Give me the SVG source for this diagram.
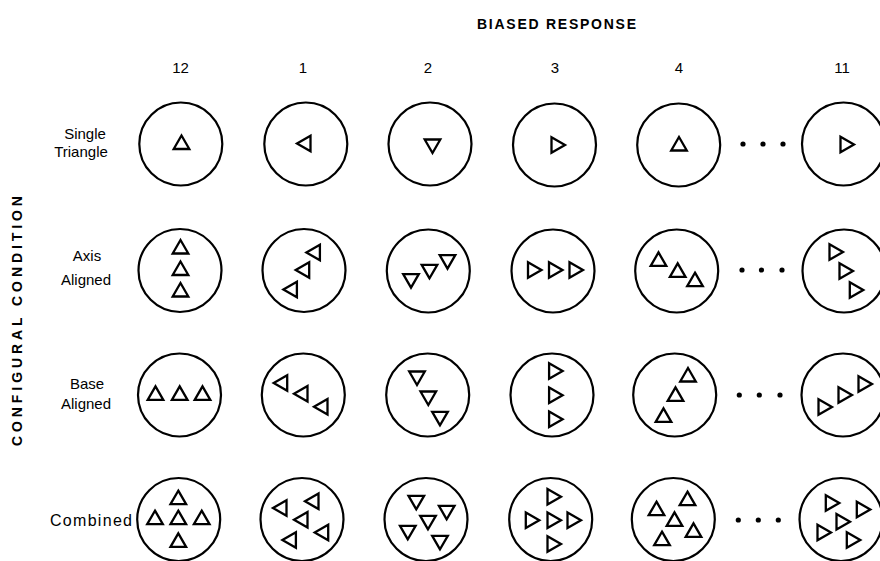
<svg xmlns="http://www.w3.org/2000/svg" xmlns:xlink="http://www.w3.org/1999/xlink" width="880" height="561" viewBox="0 0 880 561">
<style>
.c{fill:none;stroke:#000;stroke-width:2.2}
.t{fill:none;stroke:#000;stroke-width:2.3;stroke-linejoin:miter}
.d{fill:#000;stroke:none}
.lbl{font-family:"Liberation Sans",Arial,sans-serif;font-size:15px;fill:#000}
.hd{font-family:"Liberation Sans",Arial,sans-serif;font-size:14px;font-weight:bold;fill:#000}
.num{font-family:"Liberation Sans",Arial,sans-serif;font-size:15px;fill:#000;text-anchor:middle}
</style>
<defs>
<path id="U" class="t" d="M0,-9 L7.8,4.5 L-7.8,4.5 Z"/>
</defs>
<rect width="880" height="561" fill="#fff"/>
<g id="headings">
<text class="hd" x="477" y="29" textLength="159" lengthAdjust="spacing">BIASED RESPONSE</text>
<text class="num" x="180.5" y="73">12</text>
<text class="num" x="303" y="73">1</text>
<text class="num" x="428" y="73">2</text>
<text class="num" x="555" y="73">3</text>
<text class="num" x="679" y="73">4</text>
<text class="num" x="842" y="73">11</text>
<text class="hd" transform="translate(22,446) rotate(-90)" x="0" y="0" textLength="250" lengthAdjust="spacing">CONFIGURAL CONDITION</text>
</g>
<g id="row-labels" class="lbl" text-anchor="middle">
<text x="85" y="139">Single</text>
<text x="81" y="157">Triangle</text>
<text x="87" y="261">Axis</text>
<text x="86" y="285">Aligned</text>
<text x="87" y="389">Base</text>
<text x="86" y="409">Aligned</text>
<text x="91" y="526" font-size="16" textLength="82" lengthAdjust="spacing">Combined</text>
</g>
<g id="connectors"></g>

<!-- Row 1 -->
<g id="r1c12"><circle class="c" cx="180.8" cy="144" r="41.5"/><use xlink:href="#U" transform="translate(181.5,144.5)"/></g>
<g id="r1c1"><circle class="c" cx="305.8" cy="144" r="41.5"/><use xlink:href="#U" transform="translate(306,143.5) rotate(-90)"/></g>
<g id="r1c2"><circle class="c" cx="430" cy="144" r="41.5"/><use xlink:href="#U" transform="translate(432.5,144) rotate(180)"/></g>
<g id="r1c3"><circle class="c" cx="554.5" cy="145" r="41.5"/><use xlink:href="#U" transform="translate(556,145) rotate(90)"/></g>
<g id="r1c4"><circle class="c" cx="678.7" cy="145" r="41.5"/><use xlink:href="#U" transform="translate(679,146)"/></g>
<g id="r1dots"><circle class="d" cx="743" cy="144" r="2.6"/><circle class="d" cx="763" cy="144" r="2.6"/><circle class="d" cx="783" cy="144" r="2.6"/></g>
<g id="r1c11"><circle class="c" cx="843.5" cy="144" r="41.5"/><use xlink:href="#U" transform="translate(845,144.5) rotate(90)"/></g>

<!-- Row 2 -->
<g id="r2c12"><circle class="c" cx="180" cy="270.5" r="41.5"/>
<use xlink:href="#U" transform="translate(180.5,249)"/><use xlink:href="#U" transform="translate(180.5,270.5)"/><use xlink:href="#U" transform="translate(180.5,292)"/></g>
<g id="r2c1"><circle class="c" cx="304" cy="270.5" r="41.5"/>
<use xlink:href="#U" transform="translate(315.4,252.5) rotate(-90)"/><use xlink:href="#U" transform="translate(304.7,270) rotate(-90)"/><use xlink:href="#U" transform="translate(292.4,289.5) rotate(-90)"/></g>
<g id="r2c2"><circle class="c" cx="428.3" cy="271" r="41.5"/>
<use xlink:href="#U" transform="translate(411,278.6) rotate(180)"/><use xlink:href="#U" transform="translate(429.5,269.3) rotate(180)"/><use xlink:href="#U" transform="translate(447.5,259.6) rotate(180)"/></g>
<g id="r2c3"><circle class="c" cx="553" cy="271" r="41.5"/>
<use xlink:href="#U" transform="translate(532.5,270) rotate(90)"/><use xlink:href="#U" transform="translate(553.5,270) rotate(90)"/><use xlink:href="#U" transform="translate(574,270) rotate(90)"/></g>
<g id="r2c4"><circle class="c" cx="676.7" cy="271" r="41.5"/>
<use xlink:href="#U" transform="translate(658.5,261.4)"/><use xlink:href="#U" transform="translate(677.7,272.4)"/><use xlink:href="#U" transform="translate(695,281.7)"/></g>
<g id="r2dots"><circle class="d" cx="742" cy="270" r="2.6"/><circle class="d" cx="761.5" cy="270" r="2.6"/><circle class="d" cx="782" cy="270" r="2.6"/></g>
<g id="r2c11"><circle class="c" cx="844" cy="271" r="41.5"/>
<use xlink:href="#U" transform="translate(834,252) rotate(90)"/><use xlink:href="#U" transform="translate(844,271) rotate(90)"/><use xlink:href="#U" transform="translate(854.3,290) rotate(90)"/></g>

<!-- Row 3 -->
<g id="r3c12"><circle class="c" cx="179.5" cy="395" r="41.5"/>
<use xlink:href="#U" transform="translate(155.5,395.4)"/><use xlink:href="#U" transform="translate(179.7,395.4)"/><use xlink:href="#U" transform="translate(202.5,395.4)"/></g>
<g id="r3c1"><circle class="c" cx="303.3" cy="395" r="41.5"/>
<use xlink:href="#U" transform="translate(282.7,383) rotate(-90)"/><use xlink:href="#U" transform="translate(303,393.8) rotate(-90)"/><use xlink:href="#U" transform="translate(323,406.7) rotate(-90)"/></g>
<g id="r3c2"><circle class="c" cx="427.7" cy="395" r="41.5"/>
<use xlink:href="#U" transform="translate(417,376) rotate(180)"/><use xlink:href="#U" transform="translate(428.3,396) rotate(180)"/><use xlink:href="#U" transform="translate(440,416.3) rotate(180)"/></g>
<g id="r3c3"><circle class="c" cx="552" cy="395" r="41.5"/>
<use xlink:href="#U" transform="translate(553.6,371) rotate(90)"/><use xlink:href="#U" transform="translate(553.6,395.3) rotate(90)"/><use xlink:href="#U" transform="translate(553.6,419.3) rotate(90)"/></g>
<g id="r3c4"><circle class="c" cx="674.7" cy="395" r="41.5"/>
<use xlink:href="#U" transform="translate(688,377)"/><use xlink:href="#U" transform="translate(675.5,396.4)"/><use xlink:href="#U" transform="translate(663.5,417.4)"/></g>
<g id="r3dots"><circle class="d" cx="739.3" cy="395" r="2.6"/><circle class="d" cx="759.3" cy="395" r="2.6"/><circle class="d" cx="780" cy="395" r="2.6"/></g>
<g id="r3c11"><circle class="c" cx="843" cy="395" r="41.5"/>
<use xlink:href="#U" transform="translate(823,407) rotate(90)"/><use xlink:href="#U" transform="translate(843,395) rotate(90)"/><use xlink:href="#U" transform="translate(863,384) rotate(90)"/></g>

<!-- Row 4 -->
<g id="r4c12"><circle class="c" cx="178.7" cy="519.5" r="41.5"/>
<use xlink:href="#U" transform="translate(178.3,499.7)"/><use xlink:href="#U" transform="translate(155,519.7)"/><use xlink:href="#U" transform="translate(178.3,519.7)"/><use xlink:href="#U" transform="translate(201.7,519.7)"/><use xlink:href="#U" transform="translate(178.3,542.4)"/></g>
<g id="r4c1"><circle class="c" cx="302" cy="519.5" r="41.5"/>
<use xlink:href="#U" transform="translate(282,508) rotate(-90)"/><use xlink:href="#U" transform="translate(314,501.3) rotate(-90)"/><use xlink:href="#U" transform="translate(303,519.7) rotate(-90)"/><use xlink:href="#U" transform="translate(291.4,540) rotate(-90)"/><use xlink:href="#U" transform="translate(323.7,532.5) rotate(-90)"/></g>
<g id="r4c2"><circle class="c" cx="426" cy="519.5" r="41.5"/>
<use xlink:href="#U" transform="translate(416.3,500.3) rotate(180)"/><use xlink:href="#U" transform="translate(446.7,510.3) rotate(180)"/><use xlink:href="#U" transform="translate(428,520.3) rotate(180)"/><use xlink:href="#U" transform="translate(407.8,530.3) rotate(180)"/><use xlink:href="#U" transform="translate(440,540.3) rotate(180)"/></g>
<g id="r4c3"><circle class="c" cx="550.7" cy="519.5" r="41.5"/>
<use xlink:href="#U" transform="translate(552,496.7) rotate(90)"/><use xlink:href="#U" transform="translate(530.3,520.3) rotate(90)"/><use xlink:href="#U" transform="translate(552,520.3) rotate(90)"/><use xlink:href="#U" transform="translate(572,520.3) rotate(90)"/><use xlink:href="#U" transform="translate(552,544) rotate(90)"/></g>
<g id="r4c4"><circle class="c" cx="673.3" cy="519.5" r="41.5"/>
<use xlink:href="#U" transform="translate(656.5,510.7)"/><use xlink:href="#U" transform="translate(687.5,500.7)"/><use xlink:href="#U" transform="translate(674.5,521.4)"/><use xlink:href="#U" transform="translate(662,540.7)"/><use xlink:href="#U" transform="translate(693.5,532.4)"/></g>
<g id="r4dots"><circle class="d" cx="738.3" cy="520" r="2.6"/><circle class="d" cx="758.3" cy="520" r="2.6"/><circle class="d" cx="778.3" cy="520" r="2.6"/></g>
<g id="r4c11"><circle class="c" cx="841" cy="519.5" r="41.5"/>
<use xlink:href="#U" transform="translate(830.3,503) rotate(90)"/><use xlink:href="#U" transform="translate(861.3,509.5) rotate(90)"/><use xlink:href="#U" transform="translate(841,521.7) rotate(90)"/><use xlink:href="#U" transform="translate(822,532.5) rotate(90)"/><use xlink:href="#U" transform="translate(851.3,540) rotate(90)"/></g>
</svg>
